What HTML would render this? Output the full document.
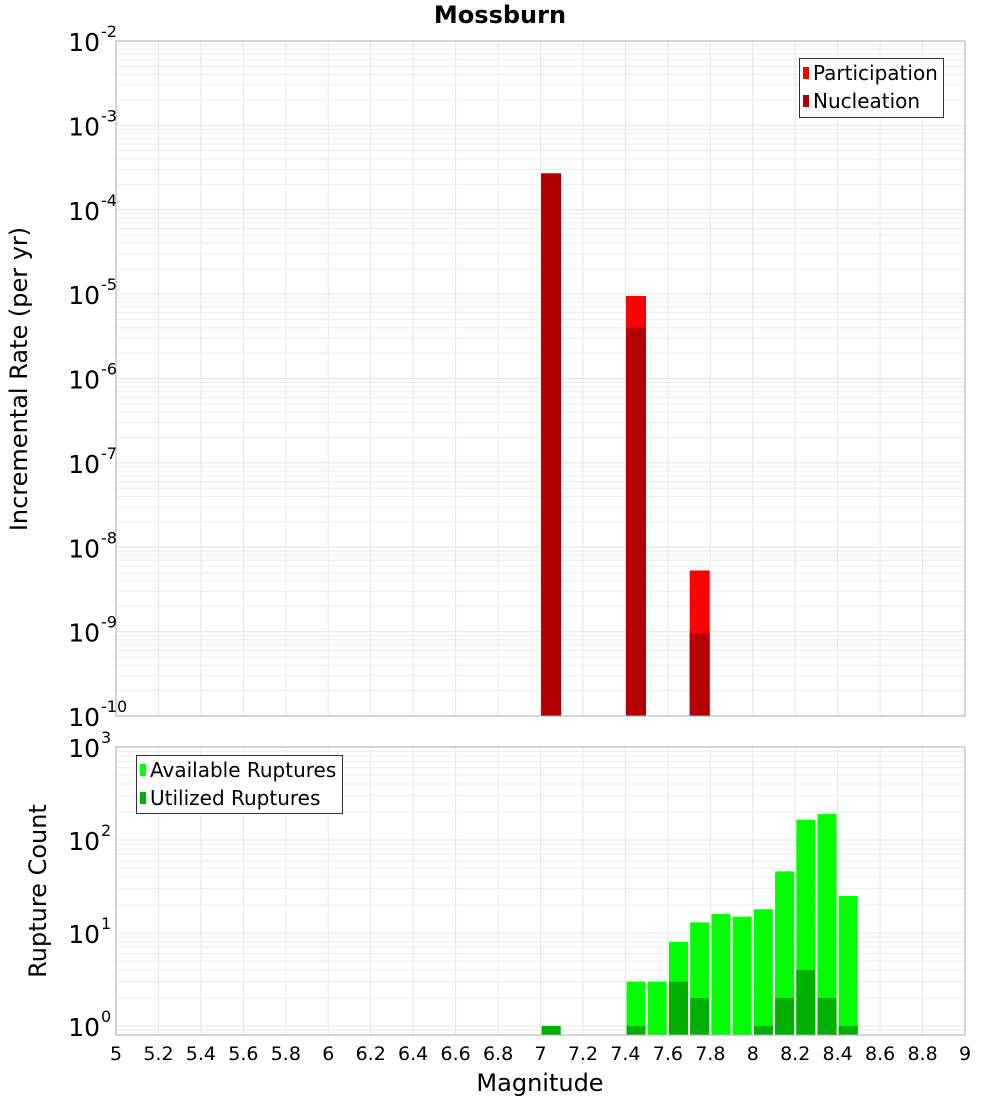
<!DOCTYPE html>
<html><head><meta charset="utf-8"><title>Mossburn</title>
<style>
html,body{margin:0;padding:0;background:#fff;}
svg{display:block;font-family:"DejaVu Sans","Liberation Sans",sans-serif;}
</style></head>
<body>
<svg id="chart" width="1000" height="1100" viewBox="0 0 1000 1100" xmlns="http://www.w3.org/2000/svg">
<text x="500" y="23" text-anchor="middle" font-size="24" font-weight="bold">Mossburn</text>
<g id="top"></g>
<g id="bottom"></g>
</svg>
<script>
// ---- data ----
const rateMags = [7.05, 7.45, 7.75];
const participationRates = [2.7e-4, 9.5e-6, 5.3e-9];
const nucleationRates = [2.7e-4, 4.0e-6, 9.6e-10];
const countMags = [7.05, 7.45, 7.55, 7.65, 7.75, 7.85, 7.95, 8.05, 8.15, 8.25, 8.35, 8.45];
const availableCounts = [1, 3, 3, 8, 13, 16, 15, 18, 46, 165, 190, 25];
const utilizedCounts = [1, 1, 0, 3, 2, 0, 0, 1, 2, 4, 2, 1];
const xTickLabels = ["5","5.2","5.4","5.6","5.8","6","6.2","6.4","6.6","6.8","7","7.2","7.4","7.6","7.8","8","8.2","8.4","8.6","8.8","9"];
const topExps = [-2,-3,-4,-5,-6,-7,-8,-9,-10];
const bottomExps = [3,2,1,0];

const NS = "http://www.w3.org/2000/svg";
function mk(parent, tag, attrs){const e=document.createElementNS(NS,tag);for(const k in attrs)e.setAttribute(k,attrs[k]);parent.appendChild(e);return e;}

const L=116, R=965;
const xScale = m => L + (m-5)/(9-5)*(R-L);
const T0=41, T1=716;
const yTop = v => T0 + (-2 - Math.log10(v))/8*(T1-T0);
const B0=747, B1=1035, BPD=93;
const yBot = v => B0 + (3 - Math.log10(v))*BPD;

function grid(g, y0, y1, loExp, hiExp, yf){
  for(let e=loExp;e<=hiExp;e++){
    for(let k=1;k<=9;k++){
      const v=k*Math.pow(10,e); const y=yf(v);
      if(y<y0-0.5||y>y1+0.5)continue;
      const gl = mk(g,'line',{x1:L,x2:R,y1:y,y2:y,stroke:k===1?'#e4e4e4':'#ececec','stroke-width':1});
      
      
    }
  }
  xTickLabels.forEach(t=>{
    const x=xScale(parseFloat(t));
    const vl = mk(g,'line',{x1:x,x2:x,y1:y0,y2:y1,stroke:'#e6e6e6','stroke-width':1});
    
    
  });
}

// ---------- TOP ----------
const gt=document.getElementById('top');


grid(gt,T0,T1,-10,-2,yTop);
const bw=20;
rateMags.forEach((m,i)=>{
  const x=xScale(m)-bw/2;
  const p=mk(gt,'rect',{x:x,y:yTop(participationRates[i]),width:bw,height:T1-yTop(participationRates[i]),fill:'#ff0000'});
  
  
  const n=mk(gt,'rect',{x:x,y:yTop(nucleationRates[i]),width:bw,height:T1-yTop(nucleationRates[i]),fill:'#b30000'});
  
  
});
const tb = mk(gt,'rect',{x:L,y:T0,width:R-L,height:T1-T0,fill:'none',stroke:'#aaaaaa','stroke-width':1});


topExps.forEach(e=>{
  const y=yTop(Math.pow(10,e));
  const t=mk(gt,'text',{x:100,y:y+10,'text-anchor':'end','font-size':25});
  t.textContent='10';
  
  
  const s=mk(gt,'text',{x:101,y:y-4,'font-size':16});
  s.textContent=String(e);
  
  
});
const yt=mk(gt,'text',{x:0,y:0,transform:'translate(27,379) rotate(-90)','text-anchor':'middle','font-size':24});
yt.textContent='Incremental Rate (per yr)';


const lg=mk(gt,'g',{});


mk(lg,'rect',{x:799.5,y:58.5,width:144,height:59,fill:'#fff',stroke:'#333','stroke-width':1});
[['Participation','#ff0000',73],['Nucleation','#b30000',101]].forEach(([lab,c,y])=>{
  const sw=mk(lg,'rect',{x:803,y:y-6,width:6,height:12,fill:c});
  
  
  const t=mk(lg,'text',{x:813,y:y+7,'font-size':20});
  t.textContent=lab;
  
  
});

// ---------- BOTTOM ----------
const gb=document.getElementById('bottom');


grid(gb,B0,B1,-1,3,yBot);
const bw2=19;
countMags.forEach((m,i)=>{
  const x=xScale(m)-bw2/2;
  if(availableCounts[i]>0){
    const a=mk(gb,'rect',{x:x,y:yBot(availableCounts[i]),width:bw2,height:B1-yBot(availableCounts[i]),fill:'#00ff00'});
    
    
  }
  if(utilizedCounts[i]>0){
    const u=mk(gb,'rect',{x:x,y:yBot(utilizedCounts[i]),width:bw2,height:B1-yBot(utilizedCounts[i]),fill:'#00b000'});
    
    
  }
});
const bb=mk(gb,'rect',{x:L,y:B0,width:R-L,height:B1-B0,fill:'none',stroke:'#aaaaaa','stroke-width':1});


bottomExps.forEach(e=>{
  const y=yBot(Math.pow(10,e));
  const t=mk(gb,'text',{x:100,y:y+10,'text-anchor':'end','font-size':25});
  t.textContent='10';
  
  
  const s=mk(gb,'text',{x:101,y:y-4,'font-size':16});
  s.textContent=String(e);
  
  
});
const yb=mk(gb,'text',{x:0,y:0,transform:'translate(46,891) rotate(-90)','text-anchor':'middle','font-size':24});
yb.textContent='Rupture Count';


xTickLabels.forEach(t=>{
  const x=xScale(parseFloat(t));
  const tx=mk(gb,'text',{x:x,y:1060,'text-anchor':'middle','font-size':19});
  tx.textContent=t;
  
  
});
const xt=mk(gb,'text',{x:540,y:1091,'text-anchor':'middle','font-size':24});
xt.textContent='Magnitude';


const lg2=mk(gb,'g',{});


mk(lg2,'rect',{x:136.5,y:755.5,width:206,height:58,fill:'#fff',stroke:'#333','stroke-width':1});
[['Available Ruptures','#00ff00',770],['Utilized Ruptures','#00b000',798]].forEach(([lab,c,y])=>{
  const sw=mk(lg2,'rect',{x:140,y:y-6,width:6,height:12,fill:c});
  
  
  const t=mk(lg2,'text',{x:150,y:y+7,'font-size':20});
  t.textContent=lab;
  
  
});
</script>
</body></html>
